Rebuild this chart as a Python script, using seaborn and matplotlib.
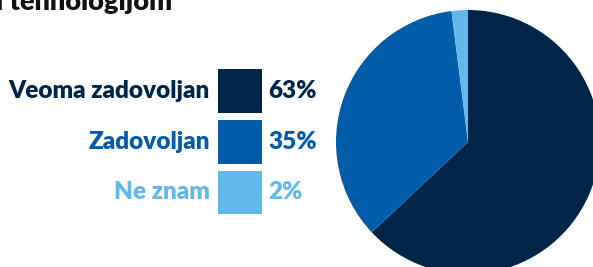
import numpy as np
import matplotlib
matplotlib.use("Agg")
import matplotlib.pyplot as plt
from matplotlib.colors import ListedColormap
import seaborn as sns

categories = ["Veoma zadovoljan", "Zadovoljan", "Ne znam"]
shares = [63, 35, 2]
pct_labels = ["63%", "35%", "2%"]
colors = ["#012549", "#015CAA", "#63B8EA"]
title_tail = "i tehnologijom"

sns.set_style("white")
plt.rcParams["font.family"] = ["Lato", "DejaVu Sans"]

W, H = 593, 267
fig = plt.figure(figsize=(W / 100, H / 100), dpi=100)

# pie, centred at about (468, 142) px with radius 132 px, clipped by the figure edge
cx, cy, r = 468, 142, 132
ax_pie = fig.add_axes([(cx - r) / W, (H - cy - r) / H, 2 * r / W, 2 * r / H])
ax_pie.pie(shares, colors=colors, startangle=90, counterclock=False,
           radius=1, wedgeprops=dict(linewidth=0))
ax_pie.set_xlim(-1, 1)
ax_pie.set_ylim(-1, 1)
ax_pie.set_aspect("auto")
ax_pie.axis("off")

# legend squares as a one-column heatmap
x0, x1 = 213.5, 264.5
y_top, y_bot = 65.5, 217
ax_leg = fig.add_axes([x0 / W, (H - y_bot) / H, (x1 - x0) / W, (y_bot - y_top) / H])
grid = np.arange(len(categories)).reshape(-1, 1)
sns.heatmap(grid, ax=ax_leg, cmap=ListedColormap(colors), cbar=False,
            linewidths=5.0, linecolor="white", xticklabels=False, yticklabels=False)
for i, (lab, pct, col) in enumerate(zip(categories, pct_labels, colors)):
    ax_leg.text(-0.07, i + 0.5 + 0.15, lab, ha="right", va="baseline", color=col,
                fontsize=17.5, fontweight="heavy", clip_on=False)
    ax_leg.text(1.07, i + 0.5 + 0.15, pct, ha="left", va="baseline", color=col,
                fontsize=17.5, fontweight="heavy", clip_on=False)

# tail of the title, cut by the top edge as in the original
fig.text(-4 / W, 1 - 10 / H, title_tail, ha="left", va="baseline", color="#111111",
         fontsize=19.5, fontweight="heavy")

fig.savefig("out.png", dpi=100)
